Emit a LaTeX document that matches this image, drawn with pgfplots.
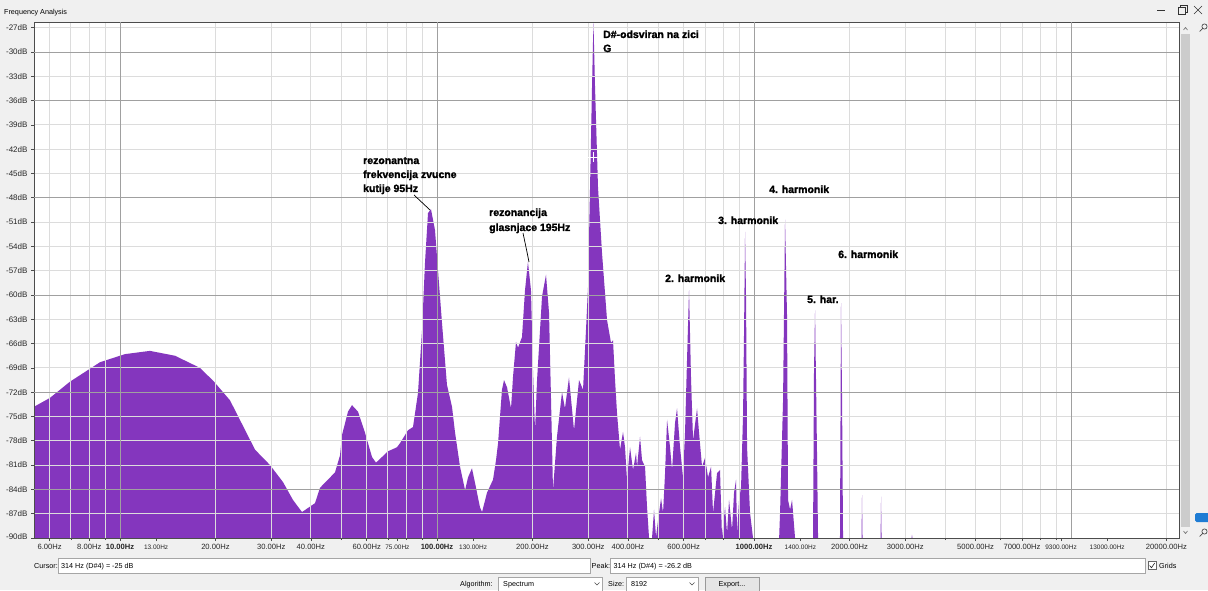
\documentclass[border=0pt]{standalone}
\usepackage{pgfplots}
\pgfplotsset{compat=1.18}
\usepackage{fontspec}
\setmainfont{Liberation Sans}
\newfontfamily\annfont[BoldFeatures={FakeBold=1.6}]{Liberation Sans}
\definecolor{winbg}{RGB}{240,240,240}
\definecolor{spec}{RGB}{132,54,190}
\definecolor{gridlt}{RGB}{220,220,220}
\definecolor{griddk}{RGB}{160,160,160}
\definecolor{slider}{RGB}{30,124,212}
\newcommand\sm[1]{{\fontsize{6.5}{7}\selectfont #1}}
\newcommand\ann{\annfont\fontsize{10.5}{12}\selectfont\bfseries}
\newcommand\ui{\fontsize{7.2}{9}\selectfont}

\begin{document}
\begin{tikzpicture}
\useasboundingbox (0pt,0pt) rectangle (1208pt,590pt);
\fill[winbg] (0pt,0pt) rectangle (1208pt,590pt);

\begin{axis}[
  at={(34pt,52pt)}, anchor=south west,
  width=1145pt, height=516pt, scale only axis,
  xmode=log, log basis x=10,
  xmin=5.355, xmax=21910, ymin=-90, ymax=-26.3,
  axis background/.style={fill=white},
  axis on top,
  axis line style={black!70, line width=0.8pt},
  tick align=outside, tick pos=left,
  major tick length=3pt, minor tick length=2pt,
  tick style={black!70, line width=0.6pt},
  xtick={6,8,10,13,20,30,40,60,75,100,130,200,300,400,600,1000,1400,2000,3000,5000,7000,9300,13000,20000},
  xticklabels={6.00Hz,8.00Hz,\textbf{10.00Hz},\sm{13.00Hz},20.00Hz,30.00Hz,40.00Hz,60.00Hz,\sm{75.00Hz},\textbf{100.00Hz},\sm{130.00Hz},200.00Hz,300.00Hz,400.00Hz,600.00Hz,\textbf{1000.00Hz},\sm{1400.00Hz},2000.00Hz,3000.00Hz,5000.00Hz,7000.00Hz,\sm{9300.00Hz},\sm{13000.00Hz},20000.00Hz},
  minor xtick={6,7,8,9,20,30,40,50,60,70,80,90,200,300,400,500,600,700,800,900,2000,3000,4000,5000,6000,7000,8000,9000,20000},
  xminorgrids,
  minor grid style={gridlt, line width=0.8pt},
  ytick={-90,-87,...,-27},
  yticklabels={\raisebox{3pt}{-90dB},-87dB,-84dB,-81dB,-78dB,-75dB,-72dB,-69dB,-66dB,-63dB,-60dB,-57dB,-54dB,-51dB,-48dB,-45dB,-42dB,-39dB,-36dB,-33dB,-30dB,-27dB},
  ymajorgrids,
  major grid style={gridlt, line width=0.8pt},
  extra x ticks={10,100,1000,10000}, extra x tick labels={},
  extra y ticks={-84,-72,-60,-48,-36,-30}, extra y tick labels={},
  extra tick style={grid=major, major grid style={griddk, line width=0.8pt}, major tick length=0pt},
  xticklabel style={font=\fontsize{7.6}{9}\selectfont, text=black!85},
  yticklabel style={font=\fontsize{8}{9}\selectfont, text=black!85},
]
\addplot[fill=spec, draw=none] table {
f db
5.355 -90
5.355 -73.8
6.015 -72.7
6.955 -70.7
8.65 -68.3
10.37 -67.3
12.43 -66.9
14.91 -67.5
17.88 -69.0
19.80 -70.7
22.23 -73.0
26.67 -79.1
29.74 -81.0
32.68 -83.1
35.13 -85.3
37.51 -86.8
41.22 -85.7
42.75 -83.8
47.67 -81.9
49.43 -79.8
50.15 -77.3
52.38 -74.4
53.93 -73.6
56.33 -74.4
59.27 -77.0
62.37 -80.0
64.21 -80.7
67.06 -80.0
70.03 -79.3
74.77 -78.8
76.42 -78.3
79.26 -77.3
80.99 -76.7
84.0 -76.3
87.1 -72.1
89.7 -64.3
91.65 -56.0
93.66 -49.9
95.7 -49.4
98.56 -52.0
100.7 -56.9
103.7 -63.5
107.5 -71.1
111.5 -73.8
114.0 -77.0
118.2 -81.2
122.6 -84.1
125.3 -82.5
128.9 -81.4
131.8 -83.2
136.6 -86.2
138.7 -86.8
143.8 -84.4
150.2 -82.8
153.5 -80.4
155.8 -78.3
160.3 -71.7
162.7 -70.5
166.3 -71.4
171.2 -74.0
173.7 -70.1
177.5 -65.8
180.1 -66.5
185.4 -65.2
189.5 -59.4
193.6 -55.9
197.9 -59.4
200.8 -69.3
203.8 -76.7
206.8 -70.5
214.4 -60.2
220.7 -57.5
225.6 -62.2
228.8 -72.6
232.2 -84.1
239.0 -77.5
247.9 -72.0
253.3 -74.0
260.8 -70.2
270.5 -76.7
280.5 -70.5
288.8 -71.7
295.1 -64.3
299.5 -59.0
303.9 -46.7
308.3 -34.3
311.5 -26.3
315.1 -34.3
322.0 -46.7
331.5 -54.8
343.8 -63.1
353.9 -65.9
359.1 -65.6
364.4 -70.5
369.7 -74.6
377.8 -79.1
386.2 -76.9
391.8 -78.8
397.5 -82.8
406.3 -78.8
415.2 -81.6
424.4 -79.5
427.5 -81.2
436.9 -77.5
443.3 -80.4
453.1 -81.2
459.7 -86.2
466.5 -90
476.7 -90
483.7 -86.5
490.8 -89.9
498.0 -87.8
509.0 -85.1
516.4 -86.9
524.0 -82.0
531.7 -75.4
543.3 -78.8
551.3 -81.6
563.4 -75.8
571.6 -74.0
584.3 -78.8
597.0 -82.5
605.8 -77.0
614.7 -68.0
623.7 -59.4
633.0 -70.5
642.2 -77.9
661.1 -74.0
670.8 -77.0
685.5 -81.2
700.6 -80.1
716.1 -82.5
731.9 -81.2
742.6 -86.9
764.5 -82.0
781.2 -81.6
792.6 -89.9
810.1 -86.2
822.0 -89.4
834.0 -85.3
852.4 -89.0
864.9 -84.4
877.6 -82.8
884.0 -89.4
897.0 -85.3
910.1 -83.7
923.5 -74.6
930.2 -64.3
936.9 -52.2
943.7 -60.6
950.6 -78.8
971.4 -86.9
992.7 -90
1200 -90
1208 -86.9
1234.6 -73.0
1252.6 -50.7
1270.9 -62.7
1280.2 -85.3
1299 -86.5
1318 -85.3
1347 -90
1535 -90
1546 -69.3
1557.6 -61.9
1580 -79.5
1592 -90
1867 -90
1881 -61.0
1895 -72.6
1909 -90
2183 -90
2191 -84.7
2199 -90
2507 -90
2516 -84.9
2525 -90
3140 -90
3150 -89.6
3160 -90
21910 -90
};
\addplot[only marks, mark=+, mark size=5pt, white, line width=1pt] coordinates {(311.5,-43)};
\end{axis}

\begin{scope}[x=1pt,y=1pt]
% window title and buttons
\node[anchor=base west, inner sep=0, font=\ui] at (4,575) {Frequency Analysis};
\draw[black!80, line width=0.6] (1157,580)--(1165,580);
\draw[black!80, line width=0.6] (1178,576) rectangle (1185,583);
\draw[black!80, line width=0.6] (1180,583)--(1180,585)--(1187,585)--(1187,578)--(1185,578);
\draw[black!80, line width=0.6] (1194,576)--(1202,584) (1194,584)--(1202,576);
% scroll bar, zoom icons and slider
\fill[black!20] (1181,63) rectangle (1190,556);
\draw[black!60, line width=0.6] (1183.5,560)--(1185.5,562.5)--(1187.5,560);
\draw[black!60, line width=0.6] (1183.5,59)--(1185.5,56.5)--(1187.5,59);
\draw[black!70, line width=0.7] (1204.5,563.5) circle (2.6) (1202.6,561.6)--(1199.5,558.5);
\draw[black!70, line width=0.7] (1204.5,58.5) circle (2.6) (1202.6,56.6)--(1199.5,53.5);
\fill[slider, rounded corners=1.5] (1195,68) rectangle (1210,77);
% annotations
\node[anchor=base west, inner sep=0, font=\ann] at (363,426) {rezonantna};
\node[anchor=base west, inner sep=0, font=\ann] at (363,412) {frekvencija zvucne};
\node[anchor=base west, inner sep=0, font=\ann] at (363,398) {kutije 95Hz};
\draw[black, line width=0.7] (414,395)--(430,380);
\node[anchor=base west, inner sep=0, font=\ann] at (489,374) {rezonancija};
\node[anchor=base west, inner sep=0, font=\ann] at (489,359) {glasnjace 195Hz};
\draw[black, line width=0.7] (523,357)--(527,338)--(529,328);
\node[anchor=base west, inner sep=0, font=\ann] at (603,552) {D\#-odsviran na zici};
\node[anchor=base west, inner sep=0, font=\ann] at (603,538) {G};
\node[anchor=base west, inner sep=0, font=\ann] at (769,397) {4. harmonik};
\node[anchor=base west, inner sep=0, font=\ann] at (718,366) {3. harmonik};
\node[anchor=base west, inner sep=0, font=\ann] at (838,332) {6. harmonik};
\node[anchor=base west, inner sep=0, font=\ann] at (665,308) {2. harmonik};
\node[anchor=base west, inner sep=0, font=\ann] at (807,287) {5. har.};
% bottom controls
\node[anchor=base west, inner sep=0, font=\ui] at (34,21.5) {Cursor:};
\draw[black!35, fill=white] (58,17) rectangle (590,32);
\node[anchor=base west, inner sep=0, font=\ui] at (61,21.5) {314 Hz (D\#4) = -25 dB};
\node[anchor=base west, inner sep=0, font=\ui] at (591.5,21.5) {Peak:};
\draw[black!35, fill=white] (610.5,17) rectangle (1145,32);
\node[anchor=base west, inner sep=0, font=\ui] at (613.5,21.5) {314 Hz (D\#4) = -26.2 dB};
\draw[black!60, fill=white] (1148,20.5) rectangle (1156,28.5);
\draw[black!85, line width=0.6] (1149.5,24.5)--(1151.5,22.3)--(1154.7,27);
\node[anchor=base west, inner sep=0, font=\ui] at (1159,21.5) {Grids};
\node[anchor=base west, inner sep=0, font=\ui] at (460,3.5) {Algorithm:};
\draw[black!35, fill=white] (498,-1) rectangle (602,13);
\node[anchor=base west, inner sep=0, font=\ui] at (503,3.5) {Spectrum};
\draw[black!70, line width=0.5] (594.5,7.5)--(597,5)--(599.5,7.5);
\node[anchor=base west, inner sep=0, font=\ui] at (608,3.5) {Size:};
\draw[black!35, fill=white] (626,-1) rectangle (698,13);
\node[anchor=base west, inner sep=0, font=\ui] at (631,3.5) {8192};
\draw[black!70, line width=0.5] (689.5,7.5)--(692,5)--(694.5,7.5);
\draw[black!40, fill=black!10] (705,-1) rectangle (759,13);
\node[anchor=base, inner sep=0, font=\ui] at (732,3.5) {Export...};
\end{scope}
\end{tikzpicture}
\end{document}
